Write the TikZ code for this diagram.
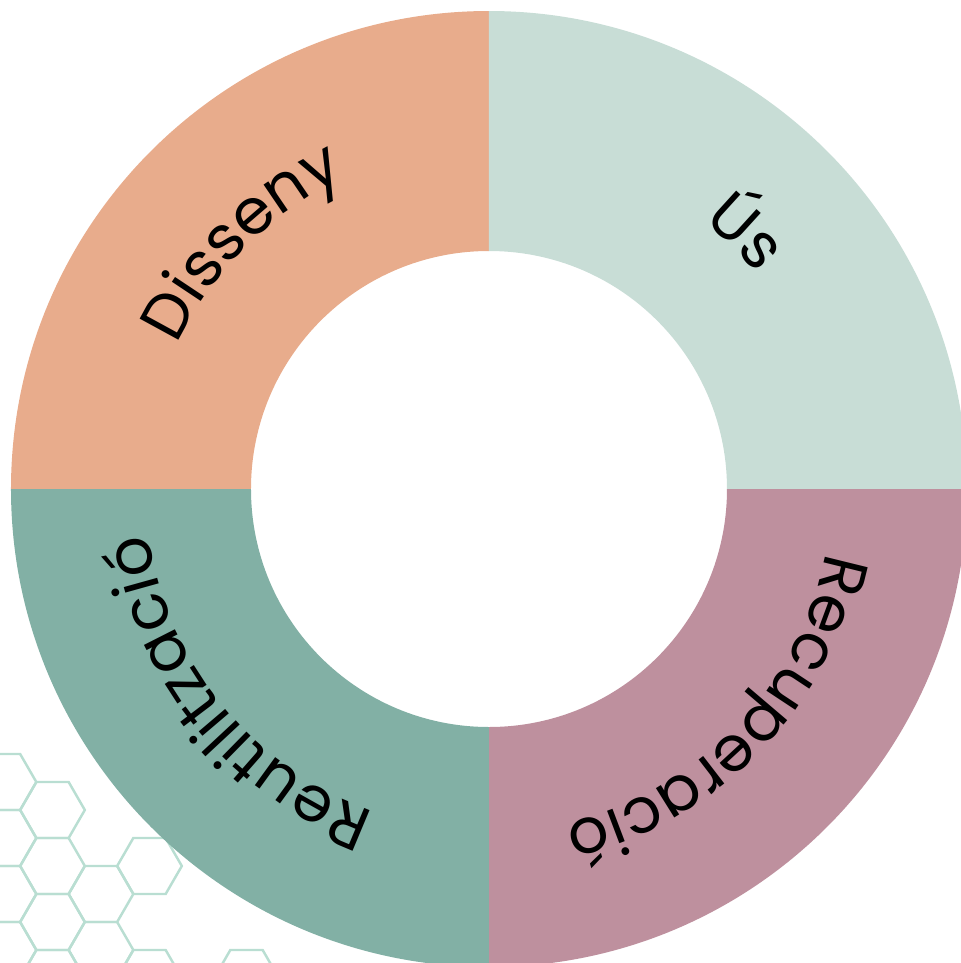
\documentclass[tikz,border=0pt]{standalone}
\usepackage{fontspec}
\newfontfamily\ringfont{Poppins}
\usepackage{tikz}
\usetikzlibrary{decorations.text}

\definecolor{disCol}{HTML}{E8AC8C}
\definecolor{usCol}{HTML}{C8DDD6}
\definecolor{recCol}{HTML}{BE909E}
\definecolor{reuCol}{HTML}{82B0A5}
\definecolor{hexCol}{HTML}{B9DED2}

\newcommand{\ringlabel}{\ringfont\fontsize{18pt}{18pt}\selectfont}

\begin{document}
\begin{tikzpicture}[
      hexline/.style={draw=hexCol, line width=0.7pt, line join=miter},
      lbl/.style={decorate, decoration={text along path, text align=center,
                  text color=black}}]

    % Radii (cm)
    \def\ro{4.78}
    \def\ri{2.38}
    \def\rt{3.43}
    \def\hr{0.3233}

    \useasboundingbox (-4.89,-4.74) rectangle (4.72,4.89);

    % Honeycomb in the lower left corner (column/row in the lattice)
    \foreach \c/\k in {0/0,0/1,0/2,0/3, 1/0,1/1,1/2,1/3, 2/2,2/3, 3/1,3/3, 5/3} {
      \pgfmathsetmacro{\hx}{-4.85 + 0.485*\c}
      \pgfmathsetmacro{\hy}{-2.93 - 0.28*mod(\c,2) - 0.56*\k}
      \draw[hexline] (\hx,\hy) +(0:\hr) -- +(60:\hr) -- +(120:\hr)
            -- +(180:\hr) -- +(240:\hr) -- +(300:\hr) -- cycle;
    }

    % Ring sectors
    \fill[disCol] (180:\ri) -- (180:\ro) arc[start angle=180, end angle=90, radius=\ro]
          -- (90:\ri) arc[start angle=90, end angle=180, radius=\ri] -- cycle;
    \fill[usCol] (90:\ri) -- (90:\ro) arc[start angle=90, end angle=0, radius=\ro]
          -- (0:\ri) arc[start angle=0, end angle=90, radius=\ri] -- cycle;
    \fill[recCol] (0:\ri) -- (0:\ro) arc[start angle=0, end angle=-90, radius=\ro]
          -- (-90:\ri) arc[start angle=-90, end angle=0, radius=\ri] -- cycle;
    \fill[reuCol] (270:\ri) -- (270:\ro) arc[start angle=270, end angle=180, radius=\ro]
          -- (180:\ri) arc[start angle=180, end angle=270, radius=\ri] -- cycle;

    % Labels, read clockwise round the ring
    \path[lbl, decoration={text={|\ringlabel|Disseny}}]
          (180:\rt) arc[start angle=180, end angle=90, radius=\rt];
    \path[lbl, decoration={text={|\ringlabel|Ús}}]
          (90:\rt) arc[start angle=90, end angle=0, radius=\rt];
    \path[lbl, decoration={text={|\ringlabel|Recuperació}}]
          (1:\rt) arc[start angle=1, end angle=-89, radius=\rt];
    \path[lbl, decoration={text={|\ringlabel|Reutilització}}]
          (264:\rt) arc[start angle=264, end angle=174, radius=\rt];

\end{tikzpicture}
\end{document}
